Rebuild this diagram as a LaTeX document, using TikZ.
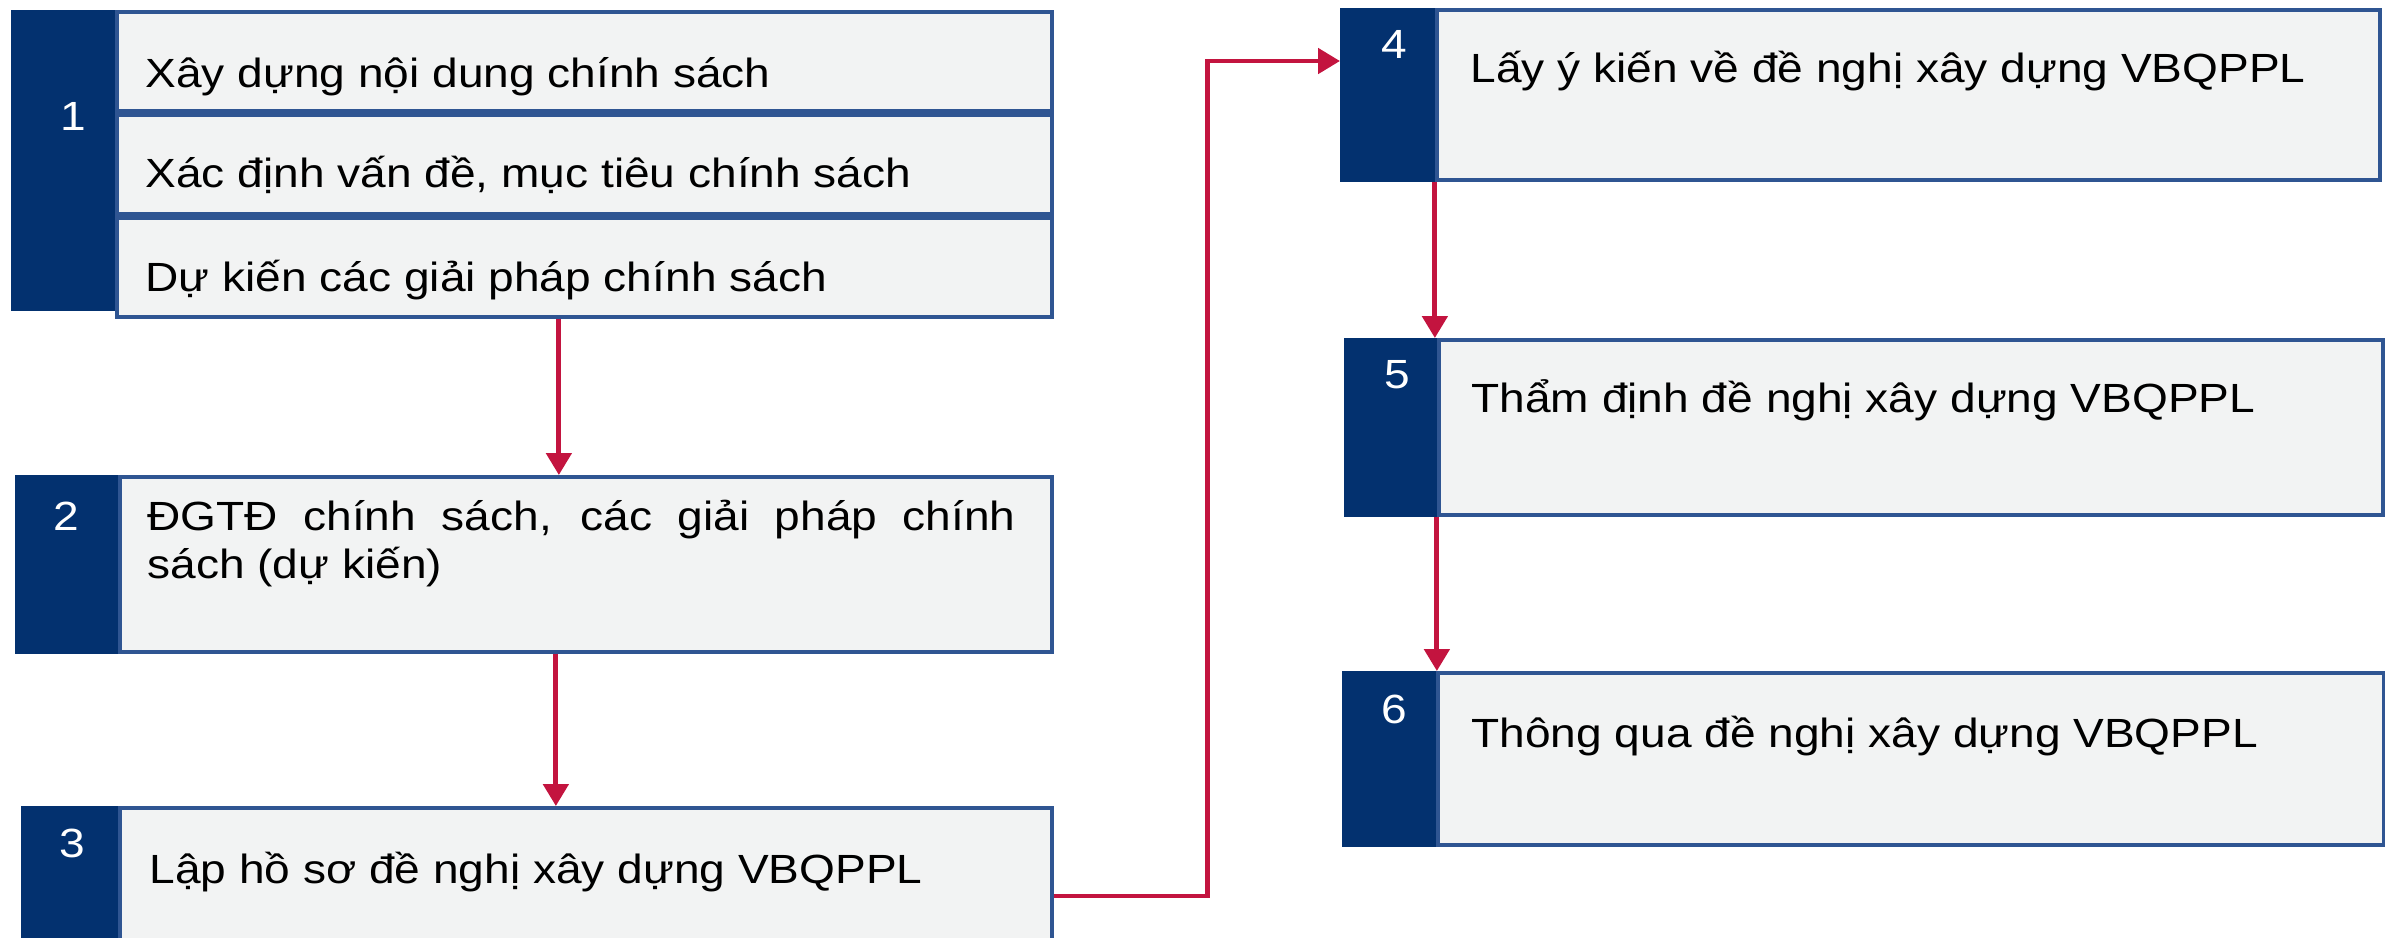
\documentclass[tikz,border=0pt]{standalone}
\usepackage{fontspec}
\setmainfont[FakeStretch=1.13]{Liberation Sans}
\usetikzlibrary{arrows.meta}
\definecolor{navy}{HTML}{03316F}
\definecolor{panel}{HTML}{F2F3F3}
\definecolor{boxline}{HTML}{2F5592}
\definecolor{arrowred}{HTML}{C3143F}

\begin{document}
\begin{tikzpicture}[
    font=\fontsize{11.6}{13.66}\selectfont,
    tab/.style={fill=navy, draw=navy, line width=1.1pt, anchor=north west, inner sep=0pt},
    body/.style={fill=panel, draw=boxline, line width=1.1pt, anchor=north west, inner sep=0pt},
    num/.style={text=white, anchor=base, inner sep=0pt},
    txt/.style={anchor=base west, inner sep=0pt},
    flow/.style={draw=arrowred, line width=1.4pt, -{Triangle[length=0.22cm,width=0.25cm]}}
]
    \useasboundingbox (0,0) rectangle (23.85,-9.37);
    \clip (0,0) rectangle (23.85,-9.37);

    % left column
    \node[tab, minimum width=1.00cm, minimum height=2.97cm] (t1) at (0.11,-0.10) {};
    \node[body, minimum width=9.35cm, minimum height=0.99cm] (r1) at (t1.north east) {};
    \node[body, minimum width=9.35cm, minimum height=0.99cm] (r2) at (r1.south west) {};
    \node[body, minimum width=9.35cm, minimum height=0.99cm] (r3) at (r2.south west) {};
    \node[num] (n1) at ([shift={(0.1,-1.20)}]t1.north) {1};
    \node[txt] (x1a) at ([shift={(0.30,-0.77)}]r1.north west) {Xây dựng nội dung chính sách};
    \node[txt] (x1b) at ([shift={(0.30,-0.75)}]r2.north west) {Xác định vấn đề, mục tiêu chính sách};
    \node[txt] (x1c) at ([shift={(0.30,-0.76)}]r3.north west) {Dự kiến các giải pháp chính sách};

    \node[tab, minimum width=0.99cm, minimum height=1.75cm] (t2) at (0.15,-4.75) {};
    \node[body, minimum width=9.32cm, minimum height=1.75cm] (b2) at (t2.north east) {};
    \node[num] (n2) at ([yshift=-0.55cm]t2.north) {2};
    \node[txt, text width=8.68cm, align=justify] (x2) at ([shift={(0.29,-0.55)}]b2.north west)
        {ĐGTĐ chính sách, các giải pháp chính\linebreak sách (dự kiến)};

    \node[tab, minimum width=0.93cm, minimum height=1.72cm] (t3) at (0.21,-8.06) {};
    \node[body, minimum width=9.32cm, minimum height=1.72cm] (b3) at (t3.north east) {};
    \node[num] (n3) at ([shift={(0.03,-0.51)}]t3.north) {3};
    \node[txt] (x3) at ([shift={(0.31,-0.77)}]b3.north west) {Lập hồ sơ đề nghị xây dựng VBQPPL};

    % right column
    \node[tab, minimum width=0.91cm, minimum height=1.70cm] (t4) at (13.40,-0.08) {};
    \node[body, minimum width=9.43cm, minimum height=1.70cm] (b4) at (t4.north east) {};
    \node[num] (n4) at ([shift={(0.07,-0.50)}]t4.north) {4};
    \node[txt] (x4) at ([shift={(0.35,-0.74)}]b4.north west) {Lấy ý kiến về đề nghị xây dựng VBQPPL};

    \node[tab, minimum width=0.89cm, minimum height=1.75cm] (t5) at (13.44,-3.38) {};
    \node[body, minimum width=9.44cm, minimum height=1.75cm] (b5) at (t5.north east) {};
    \node[num] (n5) at ([shift={(0.07,-0.50)}]t5.north) {5};
    \node[txt] (x5) at ([shift={(0.34,-0.74)}]b5.north west) {Thẩm định đề nghị xây dựng VBQPPL};

    \node[tab, minimum width=0.90cm, minimum height=1.72cm] (t6) at (13.42,-6.71) {};
    \node[body, minimum width=9.46cm, minimum height=1.72cm] (b6) at (t6.north east) {};
    \node[num] (n6) at ([shift={(0.05,-0.52)}]t6.north) {6};
    \node[txt] (x6) at ([shift={(0.35,-0.76)}]b6.north west) {Thông qua đề nghị xây dựng VBQPPL};

    % arrows
    \draw[flow] ([xshift=4.44cm]r3.south west) -- ([xshift=4.44cm]r3.south west |- b2.north);
    \draw[flow] ([xshift=4.38cm]b2.south west) -- ([xshift=4.38cm]b2.south west |- b3.north);
    \draw[flow] ([yshift=-0.90cm]b3.north east) -- ++(1.54,0) |- ([yshift=-0.53cm]t4.north west);
    \draw[flow] (t4.south east) -- (t4.south east |- t5.north);
    \draw[flow] (t5.south east) -- (t5.south east |- t6.north);
\end{tikzpicture}
\end{document}
